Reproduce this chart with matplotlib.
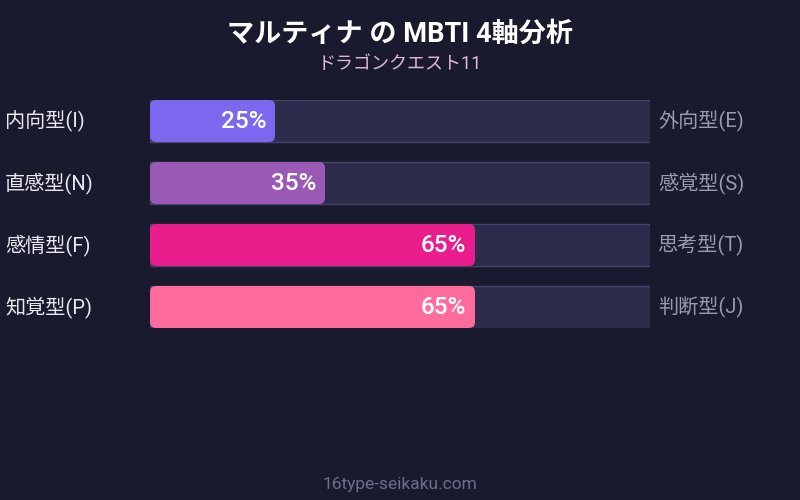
import matplotlib
matplotlib.use("Agg")
import matplotlib.pyplot as plt
from matplotlib.patches import FancyBboxPatch

plt.rcParams["font.family"] = ["Roboto", "Noto Sans CJK JP", "DejaVu Sans"]

# data
title = "マルティナ の MBTI 4軸分析"
subtitle = "ドラゴンクエスト11"
left_labels = ["内向型(I)", "直感型(N)", "感情型(F)", "知覚型(P)"]
right_labels = ["外向型(E)", "感覚型(S)", "思考型(T)", "判断型(J)"]
percents = [25, 35, 65, 65]
bar_colors = ["#7b68ee", "#9b59b6", "#e91e8c", "#ff6b9d"]

BG = "#1a1a2e"
TRACK = "#2d2b4a"

fig = plt.figure(figsize=(8, 5), dpi=100)
fig.patch.set_facecolor(BG)

# bar area: x 150..650 px, y 100..328 px
ax = fig.add_axes([150 / 800, 1 - 328 / 500, 500 / 800, 228 / 500])
ax.set_facecolor(BG)
h = 42 / 62
ax.set_xlim(0, 100)
ax.set_ylim(len(percents) - 1 + h / 2, -h / 2)
ax.axis("off")

# px -> data helpers
x_per_px = 100 / 500
y_per_px = 1 / 62

for i, (pct, col) in enumerate(zip(percents, bar_colors)):
    ax.barh(i, 100, height=h, color=TRACK, edgecolor="#45436a", linewidth=1)
    r = 6 * x_per_px
    box = FancyBboxPatch((0, i - h / 2), pct, h,
                         boxstyle=f"round,pad=0,rounding_size={r}",
                         mutation_aspect=y_per_px / x_per_px,
                         facecolor=col, edgecolor="none")
    ax.add_patch(box)
    ax.text(pct - 9 * x_per_px, i, f"{pct}%", ha="right", va="center",
            color="white", fontsize=17.5, fontweight="medium")
    ax.text(-145 * x_per_px, i, left_labels[i], ha="left", va="center",
            color="#e8e8f0", fontsize=14.5, clip_on=False)
    ax.text(100 + 8 * x_per_px, i, right_labels[i], ha="left", va="center",
            color="#9a9aae", fontsize=14.5, clip_on=False)

fig.text(0.5, 1 - 34 / 500, title, ha="center", va="center",
         color="white", fontsize=19.5, fontweight="bold")
fig.text(0.5, 1 - 64 / 500, subtitle, ha="center", va="center",
         color="#e0b8d8", fontsize=13)
fig.text(0.5, 1 - 484 / 500, "16type-seikaku.com", ha="center", va="center",
         color="#6e6e88", fontsize=12.5)

fig.savefig("out.png", dpi=100, facecolor=BG)
